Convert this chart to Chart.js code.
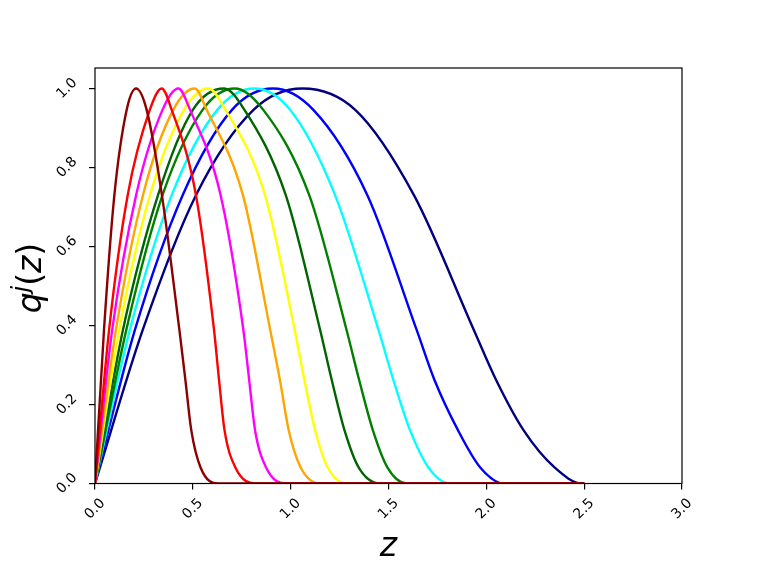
<!DOCTYPE html>
<html><head><meta charset="utf-8">
<script src="https://cdn.jsdelivr.net/npm/chart.js@4/dist/chart.umd.min.js"></script>
<style>html,body{margin:0;padding:0;background:#fff}</style>
</head><body><canvas id="c" width="758" height="569"></canvas>
<script>
// ---- tick labels ----
const xTickValues = [0, 0.5, 1.0, 1.5, 2.0, 2.5, 3.0];
const xTickLabels = ['0.0', '0.5', '1.0', '1.5', '2.0', '2.5', '3.0'];
const yTickValues = [0, 0.2, 0.4, 0.6, 0.8, 1.0];
const yTickLabels = ['0.0', '0.2', '0.4', '0.6', '0.8', '1.0'];

// ---- series (z, q) ----
const zDarkred   = [0, 0.046, 0.099, 0.162, 0.21,  0.264, 0.342, 0.431, 0.462, 0.492, 0.54,  0.63,  2.5];
const qDarkred   = [0, 0.389, 0.73,  0.946, 1.0,   0.946, 0.73,  0.39,  0.262, 0.135, 0.04,  0,     0];

const zRed       = [0, 0.072, 0.167, 0.28,  0.341, 0.392, 0.516, 0.608, 0.634, 0.662, 0.718, 0.826, 2.5];
const qRed       = [0, 0.389, 0.73,  0.946, 1.0,   0.946, 0.73,  0.39,  0.262, 0.135, 0.04,  0,     0];

const zMagenta   = [0, 0.088, 0.21,  0.345, 0.426, 0.486, 0.642, 0.758, 0.788, 0.818, 0.875, 0.98,  2.5];
const qMagenta   = [0, 0.389, 0.73,  0.946, 1.0,   0.946, 0.73,  0.39,  0.262, 0.135, 0.04,  0,     0];

const zOrange    = [0, 0.107, 0.245, 0.40,  0.51,  0.571, 0.756, 0.895, 0.945, 0.99,  1.052, 1.15,  2.5];
const qOrange    = [0, 0.389, 0.73,  0.946, 1.0,   0.946, 0.73,  0.39,  0.262, 0.135, 0.04,  0,     0];

const zYellow    = [0, 0.124, 0.281, 0.455, 0.58,  0.667, 0.869, 1.02,  1.07,  1.125, 1.19,  1.29,  2.5];
const qYellow    = [0, 0.389, 0.73,  0.946, 1.0,   0.946, 0.73,  0.39,  0.262, 0.135, 0.04,  0,     0];

const zDarkgreen = [0, 0.143, 0.322, 0.50,  0.66,  0.764, 0.975, 1.15,  1.21,  1.275, 1.348, 1.456, 2.5];
const qDarkgreen = [0, 0.389, 0.73,  0.946, 1.0,   0.946, 0.73,  0.39,  0.262, 0.135, 0.04,  0,     0];

const zGreen     = [0, 0.16,  0.345, 0.55,  0.715, 0.86,  1.095, 1.285, 1.35,  1.42,  1.495, 1.593, 2.5];
const qGreen     = [0, 0.389, 0.73,  0.946, 1.0,   0.946, 0.73,  0.39,  0.262, 0.135, 0.04,  0,     0];

const zCyan      = [0, 0.178, 0.392, 0.625, 0.815, 0.997, 1.227, 1.448, 1.525, 1.61,  1.705, 1.814, 2.5];
const qCyan      = [0, 0.389, 0.73,  0.946, 1.0,   0.946, 0.73,  0.39,  0.262, 0.135, 0.04,  0,     0];

const zBlue      = [0, 0.204, 0.448, 0.70,  0.91,  1.116, 1.392, 1.643, 1.735, 1.855, 1.97,  2.09,  2.5];
const qBlue      = [0, 0.389, 0.73,  0.946, 1.0,   0.946, 0.73,  0.39,  0.262, 0.135, 0.04,  0,     0];

const zNavy      = [0, 0.244, 0.516, 0.81,  1.06,  1.33,  1.63,  1.935, 2.05,  2.19,  2.35,  2.49,  2.5];
const qNavy      = [0, 0.389, 0.73,  0.946, 1.0,   0.946, 0.73,  0.39,  0.262, 0.135, 0.04,  0,     0];

const seriesList = [
  [zDarkred, qDarkred, '#8b0000'],
  [zRed, qRed, '#ff0000'],
  [zMagenta, qMagenta, '#ff00ff'],
  [zOrange, qOrange, '#ffa500'],
  [zYellow, qYellow, '#ffff00'],
  [zDarkgreen, qDarkgreen, '#006400'],
  [zGreen, qGreen, '#008000'],
  [zCyan, qCyan, '#00ffff'],
  [zBlue, qBlue, '#0000ff'],
  [zNavy, qNavy, '#000080']
];

const datasets = seriesList.map(([zs, qs, col]) => ({
  data: zs.map((z, i) => ({x: z, y: qs[i]})),
  borderColor: col,
  backgroundColor: col,
  borderWidth: 2.4,
  pointRadius: 0,
  fill: false,
  cubicInterpolationMode: 'monotone'
}));

const FONT = '"DejaVu Sans", "Liberation Sans", sans-serif';

const deco = {
  id: 'deco',
  afterDatasetsDraw(chart) {
    const {ctx, chartArea: a, scales: {x, y}} = chart;
    ctx.save();
    ctx.strokeStyle = '#000';
    ctx.lineWidth = 1.2;
    ctx.strokeRect(a.left, a.top, a.right - a.left, a.bottom - a.top);

    ctx.fillStyle = '#000';
    ctx.font = '14px ' + FONT;
    ctx.textAlign = 'center';
    ctx.textBaseline = 'middle';
    xTickValues.forEach((v, i) => {
      const px = x.getPixelForValue(v);
      ctx.save();
      ctx.translate(px, 509);
      ctx.rotate(-Math.PI / 4);
      ctx.fillText(xTickLabels[i], 0, 0);
      ctx.restore();
    });
    yTickValues.forEach((v, i) => {
      const py = y.getPixelForValue(v);
      ctx.save();
      ctx.translate(67, py);
      ctx.rotate(-Math.PI / 4);
      ctx.fillText(yTickLabels[i], 0, 0);
      ctx.restore();
    });

    // x axis title: z (math italic)
    ctx.textBaseline = 'alphabetic';
    ctx.font = 'italic 33px ' + FONT;
    ctx.textAlign = 'center';
    ctx.fillText('z', (a.left + a.right) / 2, 556);

    // y axis title: q^j(z)
    const big = 33, small = 23;
    const parts = [
      {t: 'q', f: 'italic ' + big + 'px ' + FONT, dy: 0},
      {t: 'j', f: 'italic ' + small + 'px ' + FONT, dy: -13},
      {t: '(', f: big + 'px ' + FONT, dy: 0},
      {t: 'z', f: 'italic ' + big + 'px ' + FONT, dy: 0},
      {t: ')', f: big + 'px ' + FONT, dy: 0}
    ];
    let total = 0;
    parts.forEach(p => { ctx.font = p.f; p.w = ctx.measureText(p.t).width; total += p.w; });
    ctx.save();
    ctx.translate(41, 278);
    ctx.rotate(-Math.PI / 2);
    ctx.textAlign = 'left';
    let cx = -total / 2;
    parts.forEach(p => { ctx.font = p.f; ctx.fillText(p.t, cx, p.dy); cx += p.w; });
    ctx.restore();
    ctx.restore();
  }
};

new Chart(document.getElementById('c'), {
  type: 'line',
  data: {datasets},
  options: {
    responsive: false,
    animation: false,
    devicePixelRatio: 1,
    layout: {padding: {left: 0, right: 76, top: 68, bottom: 0}},
    plugins: {legend: {display: false}, tooltip: {enabled: false}},
    scales: {
      x: {
        type: 'linear', min: 0, max: 3,
        afterBuildTicks: s => { s.ticks = xTickValues.map(v => ({value: v})); },
        afterFit: s => { s.height = 569 - 483.5; },
        ticks: {color: 'rgba(0,0,0,0)', maxRotation: 0, autoSkip: false},
        grid: {drawOnChartArea: false, color: '#000', lineWidth: 1.2, tickLength: 6},
        border: {display: false}
      },
      y: {
        type: 'linear', min: 0, max: 1.052,
        afterBuildTicks: s => { s.ticks = yTickValues.map(v => ({value: v})); },
        afterFit: s => { s.width = 95; },
        ticks: {color: 'rgba(0,0,0,0)', autoSkip: false},
        grid: {drawOnChartArea: false, color: '#000', lineWidth: 1.2, tickLength: 6},
        border: {display: false}
      }
    }
  },
  plugins: [deco]
});
</script>
</body></html>
